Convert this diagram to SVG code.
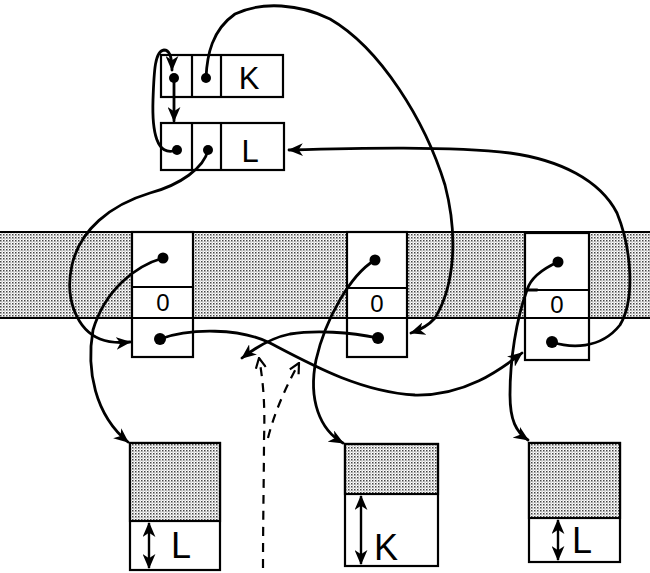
<svg xmlns="http://www.w3.org/2000/svg" width="650" height="573" viewBox="0 0 650 573">
<defs>
<pattern id="stip" width="3" height="3" patternUnits="userSpaceOnUse">
<rect width="3" height="3" fill="#ffffff"/>
<rect x="0" y="0" width="1.5" height="1.5" fill="#444"/>
<rect x="1.5" y="1.5" width="1" height="1" fill="#777"/>
</pattern>
<marker id="ah" viewBox="0 0 14 12" refX="13" refY="6" markerWidth="15" markerHeight="13" markerUnits="userSpaceOnUse" orient="auto-start-reverse">
<path d="M0,0 L14,6 L0,12 L4,6 Z" fill="#000"/>
</marker>
<marker id="oh" viewBox="0 0 12 12" refX="11" refY="6" markerWidth="12" markerHeight="12" markerUnits="userSpaceOnUse" orient="auto">
<path d="M1,1 L11,6 L1,11" fill="none" stroke="#000" stroke-width="2.2"/>
</marker>
</defs>
<style>
.box{fill:#fff;stroke:#000;stroke-width:2.2}
.gray{fill:url(#stip);stroke:#000;stroke-width:2.2}
.ln{stroke:#000;stroke-width:2.2;fill:none}
.c{fill:none;stroke:#000;stroke-width:2.8;stroke-linecap:round}
.a{marker-end:url(#ah)}
.d{fill:none;stroke:#000;stroke-width:2.2;stroke-dasharray:9 7}
.dot{fill:#000}
.t{font-family:"Liberation Sans",Arial,sans-serif;fill:#000;text-anchor:middle}
.dbl{stroke:#000;stroke-width:2.4;fill:none;marker-start:url(#ah);marker-end:url(#ah)}
</style>
<rect width="650" height="573" fill="#fff"/>
<g id="band">
<rect x="0" y="232" width="650" height="86" fill="url(#stip)"/>
<line x1="0" y1="232" x2="650" y2="232" class="ln"/>
<line x1="0" y1="318" x2="650" y2="318" class="ln"/>
</g>
<g id="listK">
<rect x="161" y="55" width="122" height="42" class="box"/>
<line x1="192" y1="55" x2="192" y2="97" class="ln"/>
<line x1="221" y1="55" x2="221" y2="97" class="ln"/>
<circle cx="174" cy="78" r="5" class="dot"/>
<circle cx="206" cy="78" r="5" class="dot"/>
<text x="249" y="89" class="t" font-size="31">K</text>
</g>
<g id="listL">
<rect x="161" y="123" width="123" height="47" class="box"/>
<line x1="192" y1="123" x2="192" y2="170" class="ln"/>
<line x1="221" y1="123" x2="221" y2="170" class="ln"/>
<circle cx="177" cy="150" r="5" class="dot"/>
<circle cx="208" cy="150" r="5" class="dot"/>
<text x="250" y="162" class="t" font-size="31">L</text>
</g>
<g id="node1">
<rect x="132" y="232" width="61" height="125" class="box"/>
<line x1="132" y1="287" x2="193" y2="287" class="ln"/>
<line x1="132" y1="318" x2="193" y2="318" class="ln"/>
<circle cx="163" cy="258" r="5.5" class="dot"/>
<circle cx="160" cy="339" r="6" class="dot"/>
<text x="163" y="311" class="t" font-size="24">0</text>
</g>
<g id="node2">
<rect x="347" y="232" width="60" height="125" class="box"/>
<line x1="347" y1="288" x2="407" y2="288" class="ln"/>
<line x1="347" y1="318" x2="407" y2="318" class="ln"/>
<circle cx="375" cy="260" r="5.5" class="dot"/>
<circle cx="378" cy="338" r="6" class="dot"/>
<text x="377" y="312" class="t" font-size="24">0</text>
</g>
<g id="node3">
<rect x="525" y="233" width="64" height="127" class="box"/>
<line x1="525" y1="290" x2="589" y2="290" class="ln"/>
<line x1="525" y1="318" x2="589" y2="318" class="ln"/>
<circle cx="558" cy="262" r="5.5" class="dot"/>
<circle cx="552" cy="342" r="6" class="dot"/>
<text x="557" y="313" class="t" font-size="24">0</text>
</g>
<g id="block1">
<rect x="130" y="443" width="90" height="127" class="box"/>
<rect x="130" y="443" width="90" height="78" class="gray"/>
<line x1="149" y1="523" x2="149" y2="568" class="dbl"/>
<text x="181" y="558" class="t" font-size="36">L</text>
</g>
<g id="block2">
<rect x="345" y="444" width="93" height="122" class="box"/>
<rect x="345" y="444" width="93" height="50" class="gray"/>
<line x1="361" y1="496" x2="361" y2="564" class="dbl"/>
<text x="386" y="560" class="t" font-size="36">K</text>
</g>
<g id="block3">
<rect x="529" y="443" width="91" height="119" class="box"/>
<rect x="529" y="443" width="91" height="75" class="gray"/>
<line x1="558" y1="520" x2="558" y2="560" class="dbl"/>
<text x="582" y="553" class="t" font-size="36">L</text>
</g>
<g id="connectors">
<path class="c a" d="M174,78 L174,121"/>
<path class="c a" d="M177,150 C156,158 152,130 153,100 C154,70 155,51 164,50 C170,50 172,58 172,70"/>
<path class="c a" d="M206,78 C207,55 212,30 235,14 C262,1 300,4 330,19 C380,48 425,120 445,185 C458,235 455,285 435,318 C428,326 420,330 411,333"/>
<path class="c a" d="M208,150 C204,168 180,185 150,193 C110,205 80,230 72,265 C64,300 78,330 100,339 C110,343 120,343 130,342"/>
<path class="c a" d="M552,342 C570,348 600,350 620,325 C635,300 632,250 617,213 C600,180 560,160 510,153 C450,146 360,148 289,150"/>
<path class="c a" d="M163,258 C135,266 105,290 93,330 C86,370 95,415 128,442"/>
<path class="c a" d="M375,260 C350,275 325,320 316,360 C308,400 320,430 343,443"/>
<path class="c a" d="M558,262 C540,270 530,280 527,290 C516,320 510,360 510,395 C510,420 516,432 528,440"/>
<path class="c" d="M527,290 L537,290"/>
<path class="c a" d="M160,339 C190,328 240,328 270,343 C310,364 360,392 415,395 C465,396 500,370 522,353"/>
<path class="c a" d="M378,338 C350,332 315,330 290,334 C270,338 255,348 242,358"/>
<path class="d" d="M263,568 C263,520 264,470 264,440 C265,410 264,385 259,358" marker-end="url(#oh)"/>
<path class="d" d="M268,438 C275,410 287,385 299,363" marker-end="url(#oh)"/>
</g>
</svg>
